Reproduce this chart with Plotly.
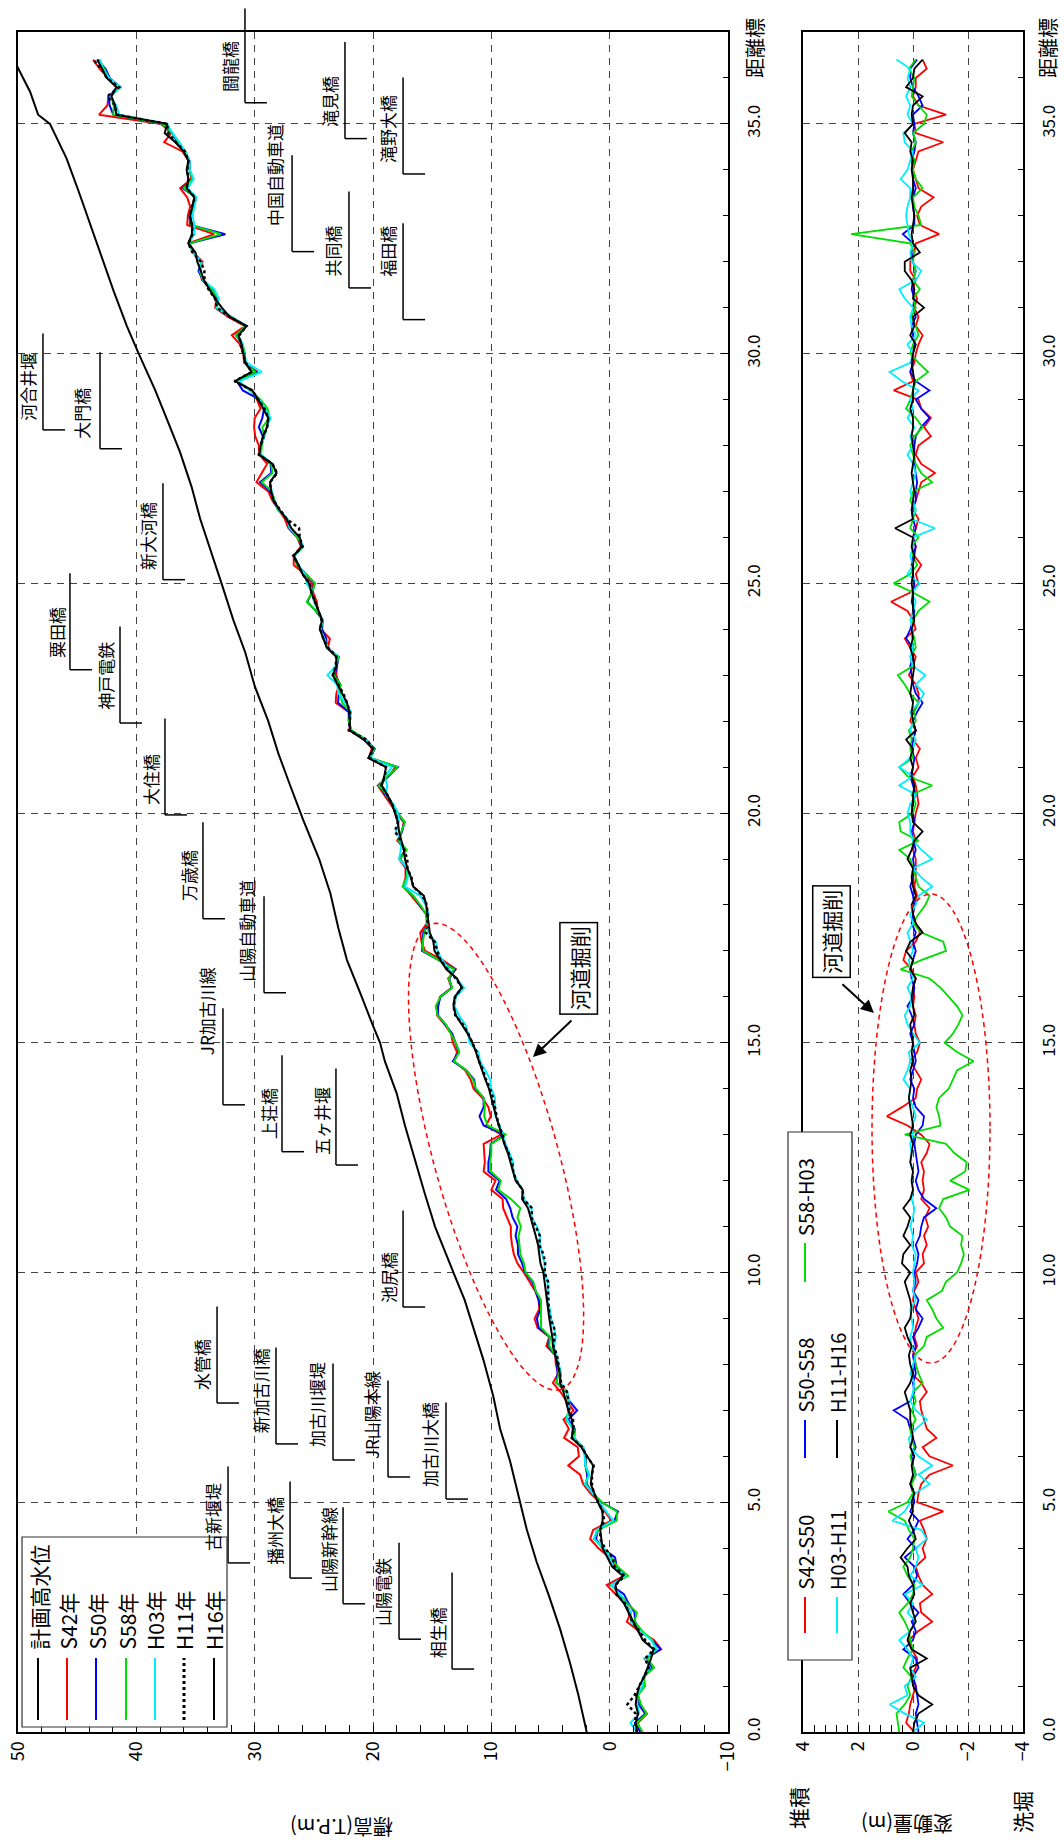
import math
import plotly.graph_objects as go

# ---------------------------------------------------------------
# Survey stations along the river (km), 200 m pitch
# ---------------------------------------------------------------
km = [round(0.2 * i, 1) for i in range(183)]

# Mean river-bed elevation, H16 survey (T.P. m)
h16 = [
    -2.3, -2.2, -2.4, -2.2, -2.3,
    -2.5, -2.9, -3.2, -3.5, -3.7,
    -2.8, -2.4, -2.0, -1.6, -1.2,
    -0.6, -0.5, -1.1, -0.2, 0.2,
    0.6, 0.7, 0.8, 0.6, 0.6,
    1.0, 1.3, 1.6, 1.5, 1.4,
    1.9, 2.4, 3.2, 3.1, 3.2,
    3.5, 3.7, 3.9, 4.2, 4.2,
    4.4, 4.6, 4.8, 4.85, 5.0,
    5.1, 5.2, 5.3, 5.4, 5.5,
    5.6, 5.85, 5.95, 6.05, 6.25,
    6.45, 6.7, 6.9, 7.4, 7.35,
    7.95, 8.15, 8.35, 8.6, 8.9,
    9.15, 9.35, 9.6, 9.8, 10.0,
    10.2, 10.5, 10.8, 11.05, 11.3,
    11.6, 12.0, 12.5, 13.0, 13.2,
    13.1, 12.5, 12.9, 13.8, 14.3,
    14.8, 14.9, 15.2, 15.3, 15.4,
    15.5, 15.7, 16.6, 16.8, 17.1,
    17.3, 17.4, 17.6, 17.8, 17.9,
    18.15, 18.4, 18.8, 19.25, 19.05,
    18.9, 20.4, 20.0, 20.8, 21.95,
    21.95, 22.0, 22.2, 22.6, 23.0,
    23.4, 23.1, 23.1, 23.9, 24.2,
    24.5, 24.3, 24.6, 24.9, 25.2,
    25.4, 25.95, 26.3, 26.7, 26.0,
    26.2, 26.9, 27.3, 27.9, 28.4,
    28.6, 28.7, 28.15, 28.5, 29.6,
    29.5, 29.3, 28.95, 28.85, 29.26,
    29.7, 30.2, 31.66, 30.25, 30.8,
    30.95, 31.1, 31.38, 30.67, 32.1,
    32.78, 33.35, 33.85, 34.3, 34.55,
    34.85, 35.0, 35.6, 35.3, 35.3,
    35.45, 35.3, 35.1, 35.75, 35.6,
    35.75, 35.6, 36.0, 36.7, 37.6,
    37.4, 41.7, 41.8, 42.1, 41.7,
    42.5, 42.9, 43.3,
]

# Bed-level change between successive surveys (m, + = deposition)
d_s42_s50 = [
    -0.05, 0.25, 0.15, 0.1, 0.0,
    -0.1, 0.05, -0.1, -0.15, 0.05,
    0.15, -0.2, -0.7, -0.3, -0.25,
    -0.7, -0.35, -0.2, -0.1, -0.45,
    -0.35, -0.5, -0.4, -0.25, -1.1,
    -0.15, -0.2, -0.3, -0.6, -1.45,
    -0.6, -0.35, -0.85, -0.5, -0.4,
    -0.3, -0.25, -0.5, -0.3, 0.05,
    -0.1, 0.0, -0.15, -0.05, -0.1,
    -0.2, -0.1, 0.0, -0.05, -0.2,
    -0.1, -0.4, -0.35, -0.5, -0.4,
    -0.55, -0.45, -0.6, -0.3, -0.4,
    -0.35, -0.4, -0.3, -0.5, -0.6,
    -0.3, 0.2, 0.95, 0.4, -0.1,
    -0.15, -0.3, -0.1, 0.1, -0.15,
    -0.25, -0.1, -0.05, -0.1, 0.0,
    -0.05, 0.0, -0.1, 0.05, 0.35,
    0.25, -0.1, -0.25, -0.1, 0.0,
    -0.05, -0.15, -0.05, -0.1, -0.1,
    -0.1, 0.0, -0.1, 0.0, -0.05,
    -0.1, -0.2, -0.15, -0.1, 0.0,
    -0.2, -0.1, -0.25, 0.0, -0.1,
    0.1, 0.0, -0.2, -0.2, -0.1,
    0.15, 0.0, -0.1, 0.1, 0.3,
    -0.1, 0.0, 0.2, 0.8, 0.1,
    -0.2, -0.1, -0.3, -0.05, -0.1,
    0.0, -0.1, -0.2, 0.0, -0.1,
    -0.2, -0.3, -0.8, -0.3, -0.1,
    -0.2, -0.65, -0.4, -0.65, -0.3,
    -0.2, 0.7, 0.0, 0.1, -0.05,
    -0.1, -0.2, -0.35, -0.1, -0.2,
    -0.05, -0.15, 0.0, -0.1, 0.1,
    0.1, -0.05, -0.1, -0.95, -0.25,
    -0.15, -0.3, -0.75, -0.2, -0.1,
    0.0, -0.1, -0.2, -1.1, -0.1,
    -0.05, -1.2, -0.2, 0.0, -0.1,
    -0.1, -0.5, -0.35,
]

d_s50_s58 = [
    -0.2, -0.15, -0.1, -0.2, -0.15,
    -0.1, 0.0, -0.2, -0.1, 0.35,
    0.0, -0.1, 0.05, -0.2, 0.1,
    0.35, 0.0, -0.15, -0.05, 0.3,
    -0.1, 0.2, -0.05, -0.2, 0.1,
    -0.05, 0.0, 0.1, -0.1, 0.0,
    0.05, -0.1, 0.0, 0.1, 0.2,
    0.7, 0.1, -0.05, 0.0, -0.1,
    -0.05, 0.0, -0.1, 0.0, -0.2,
    -0.35, -0.1, -0.2, 0.0, -0.1,
    -0.05, -0.15, -0.2, -0.1, -0.25,
    -0.3, -0.4, -0.85, -0.4, -0.2,
    -0.1, -0.2, -0.15, -0.1, -0.05,
    -0.1, -0.35, -0.4, -0.1, 0.0,
    -0.05, 0.1, 0.0, -0.1, -0.05,
    0.0, 0.1, -0.05, 0.05, 0.2,
    0.0, -0.05, 0.05, 0.1, 0.0,
    -0.1, 0.0, -0.1, 0.05, 0.0,
    -0.05, 0.0, 0.1, 0.0, -0.05,
    0.0, -0.1, 0.0, 0.05, -0.05,
    0.0, 0.05, -0.1, 0.0, 0.1,
    0.0, -0.05, 0.05, 0.0, -0.1,
    0.0, -0.15, -0.35, -0.1, 0.0,
    0.05, 0.1, 0.0, 0.0, 0.25,
    0.1, 0.0, -0.05, 0.05, 0.0,
    -0.05, 0.0, 0.05, 0.0, -0.1,
    0.0, -0.1, 0.0, 0.05, -0.1,
    -0.1, -0.15, -0.1, -0.05, -0.05,
    -0.05, -0.1, -0.3, -0.6, -0.3,
    -0.1, -0.6, -0.1, 0.1, 0.0,
    0.0, -0.05, 0.0, 0.05, -0.1,
    0.0, -0.05, 0.05, 0.0, -0.1,
    0.0, 0.05, 0.0, 0.37, -0.05,
    -0.05, 0.0, 0.0, -0.1, 0.0,
    0.0, 0.05, -0.05, -0.1, 0.0,
    -0.05, 0.0, -0.35, -0.2, 0.0,
    0.1, 0.1, -0.15,
]

d_s58_h03 = [
    0.5, 0.55, 0.6, 0.3, 0.1,
    0.2, 0.05, 0.35, 0.2, 0.0,
    0.1, 0.15, 0.3, 0.5, 0.2,
    0.0, -0.05, 0.2, 0.35, 0.1,
    0.0, -0.05, 0.15, 0.3, 0.9,
    0.2, 0.0, 0.05, -0.1, 0.0,
    0.1, -0.05, 0.05, 0.1, -0.1,
    0.05, -0.1, 0.0, -0.35, -0.2,
    -0.1, -0.05, -0.4, -0.5, -1.1,
    -0.85, -0.7, -0.5, -1.05, -1.2,
    -1.6, -1.75, -1.85, -1.75, -1.8,
    -1.35, -1.2, -0.95, -1.1, -2.05,
    -1.35, -1.9, -1.95, -1.5, -1.2,
    0.3, -1.0, -0.95, -0.85, -0.95,
    -1.3, -1.45, -1.6, -2.2, -1.6,
    -1.15, -1.45, -1.65, -1.8, -1.6,
    -1.3, -1.0, -0.6, 0.45, -0.3,
    -1.2, -1.1, -0.3, 0.0, -0.2,
    -0.45, -0.6, -0.2, -0.1, 0.0,
    0.1, 0.5, -0.2, 0.45, 0.5,
    0.0, -0.1, 0.05, -0.7, 0.2,
    0.5, 0.0, 0.1, 0.05, 0.15,
    -0.1, -0.05, -0.2, 0.1, 0.3,
    0.55, 0.0, 0.1, -0.1, -0.05,
    0.05, 0.0, -0.2, -0.6, 0.0,
    0.7, 0.1, -0.15, 0.0, 0.05,
    -0.2, 0.1, 0.0, -0.1, 0.1,
    0.0, -0.7, -0.3, -0.1, 0.0,
    0.1, -0.05, -0.35, -0.1, 0.25,
    0.1, 0.0, -0.1, -0.55, -0.2,
    0.1, 0.0, -0.2, -0.1, 0.05,
    -0.1, 0.0, -0.25, 0.0, -0.1,
    0.0, -0.05, 0.1, 2.25, -0.3,
    -0.2, -0.05, 0.0, -0.35, -0.1,
    0.0, -0.05, 0.05, -0.1, 0.0,
    -0.4, -0.5, -0.2, 0.05, 0.0,
    -0.05, 0.15, -0.1,
]

d_h03_h11 = [
    0.0, -0.4, 0.3, 0.85, 0.2,
    0.3, -0.1, 0.1, 0.0, 0.2,
    0.5, 0.1, -0.1, 0.2, 0.0,
    0.3, -0.35, 0.1, -0.1, -0.2,
    -0.1, -0.5, -0.3, 0.75, 0.3,
    0.1, -0.1, -0.6, -0.2, -0.7,
    -0.2, 0.1, 0.15, -0.1, -0.5,
    -0.1, 0.1, 0.0, -0.05, 0.1,
    0.0, -0.1, 0.05, 0.1, 0.0,
    0.05, 0.1, -0.1, 0.0, -0.05,
    0.0, -0.05, -0.1, 0.05, 0.0,
    0.1, 0.0, -0.05, 0.05, 0.0,
    0.05, 0.0, 0.1, 0.05, 0.1,
    0.0, 0.05, -0.1, 0.0, 0.15,
    0.1, 0.35, 0.2, 0.1, 0.15,
    -0.25, 0.0, 0.2, 0.3, 0.1,
    0.05, 0.2, 0.0, 0.1, 0.15,
    0.0, 0.1, 0.2, 0.0, 0.1,
    -0.1, -0.2, -0.7, -0.3, 0.0,
    -0.7, -0.3, 0.0, 0.1, 0.1,
    0.2, 0.1, -0.1, 0.5, 0.0,
    0.5, 0.1, 0.0, -0.1, 0.1,
    0.0, 0.1, -0.2, -0.4, -0.1,
    -0.45, 0.0, 0.1, 0.0, 0.05,
    0.0, 0.1, 0.0, -0.1, 0.05,
    -0.25, 0.2, 0.0, 0.1, 0.0,
    0.0, -0.8, 0.05, -0.1, 0.0,
    0.1, 0.0, -0.1, 0.0, 0.2,
    0.0, 0.1, -0.05, 0.2, 0.0,
    0.1, -0.2, 0.4, 0.85, 0.1,
    0.0, 0.2, -0.1, 0.05, 0.1,
    0.0, 0.3, 0.5, -0.1, -0.3,
    0.05, 0.1, 0.0, 0.15, 0.2,
    0.25, 0.2, 0.1, 0.1, 0.45,
    0.2, 0.1, 0.0, 0.3, 0.35,
    0.0, 0.2, 0.1, 0.25, 0.1,
    0.2, 0.1, 0.6,
]

d_h11_h16 = [
    0.0, -0.05, -0.2, -0.7, -0.2,
    0.0, 0.05, 0.1, -0.5, 0.05,
    0.2, 0.1, -0.1, 0.0, 0.1,
    -0.05, 0.0, 0.15, 0.2, 0.45,
    0.2, -0.1, 0.0, 0.15, 0.0,
    0.05, -0.05, 0.1, 0.0, 0.05,
    -0.05, 0.1, 0.0, 0.05, 0.1,
    0.1, 0.2, 0.3, 0.1, 0.0,
    0.1, 0.15, 0.05, 0.2, 0.3,
    0.1, 0.05, 0.1, 0.2, 0.3,
    0.1, 0.4, 0.35, 0.1, 0.35,
    0.2, 0.1, 0.35, 0.1, 0.0,
    0.05, 0.0, 0.1, 0.05, 0.0,
    0.1, 0.0, 0.05, 0.1, 0.15,
    0.1, 0.05, 0.1, 0.0, 0.05,
    0.0, 0.05, 0.1, -0.05, 0.0,
    0.05, 0.0, -0.1, 0.1, 0.0,
    0.25, 0.1, -0.35, -0.1, 0.0,
    0.05, -0.1, 0.0, 0.05, 0.0,
    0.2, 0.05, -0.05, -0.35, 0.0,
    0.05, 0.0, 0.0, -0.05, 0.05,
    0.0, 0.1, 0.0, 0.25, -0.1,
    0.0, 0.05, 0.0, 0.1, 0.05,
    0.0, -0.05, 0.0, 0.1, 0.0,
    0.05, -0.05, 0.0, 0.0, 0.0,
    0.05, 0.0, 0.0, -0.05, 0.05,
    0.0, 0.65, 0.0, 0.05, 0.0,
    -0.05, 0.0, 0.05, 0.0, -0.05,
    0.0, 0.05, 0.0, 0.0, 0.1,
    0.0, 0.0, -0.05, 0.0, 0.05,
    0.0, -0.1, 0.1, -0.05, 0.0,
    -0.4, 0.0, -0.05, 0.05, 0.3,
    0.3, -0.25, 0.0, 0.05, 0.0,
    -0.05, 0.0, 0.05, 0.0, 0.0,
    0.05, 0.0, 0.1, 0.05, 0.3,
    0.0, 0.05, 0.0, -0.35, 0.25,
    0.0, -0.05, -0.35,
]

# Planned high-water level (計画高水位)
hwl_km = [0.0, 0.8, 1.5, 2.25, 3.0, 3.7, 4.4, 5.0, 5.9, 6.6, 7.3, 8.1, 8.8, 9.4,
          10.0, 11.0, 11.7, 12.45, 13.2, 13.9, 14.6, 15.0, 15.35, 16.1, 16.8,
          17.5, 18.25, 19.0, 19.85, 20.6, 21.3, 22.0, 22.75, 23.5, 24.2, 25.0,
          25.65, 26.4, 27.1, 27.85, 28.5, 29.2, 30.0, 30.6, 31.35, 32.1, 32.8,
          33.55, 34.25, 35.0, 35.2, 35.7, 36.2, 36.8]
hwl_z = [1.94, 2.64, 3.35, 4.2, 5.18, 6.17, 7.0, 7.57, 8.42, 9.26, 9.83, 10.67,
         11.52, 12.25, 13.2, 14.76, 15.6, 16.45, 17.3, 18.0, 19.0, 19.4, 19.97,
         21.1, 22.2, 22.93, 23.6, 24.55, 25.9, 27.0, 28.0, 28.85, 29.98, 30.8,
         31.8, 32.8, 33.64, 34.6, 35.33, 36.3, 37.3, 38.4, 39.8, 40.8, 41.9,
         42.9, 43.9, 44.9, 45.9, 47.3, 48.3, 48.98, 49.97, 51.0]

# Structures crossing the river: name, km of the structure, elevation of the
# bracket line, text elevation, text km
structures = [
    ("闘龍橋", 35.46, 30.82, 32.08, 36.24),
    ("滝見橋", 34.68, 22.37, 23.63, 35.48),
    ("滝野大橋", 33.91, 17.46, 18.73, 34.89),
    ("中国自動車道", 32.22, 26.84, 28.28, 33.89),
    ("共同橋", 31.43, 22.03, 23.38, 32.22),
    ("福田橋", 30.74, 17.46, 18.73, 32.22),
    ("河合井堰", 28.34, 47.89, 49.15, 29.28),
    ("大門橋", 27.93, 43.07, 44.59, 28.69),
    ("新大河橋", 25.08, 37.75, 39.10, 26.03),
    ("粟田橋", 23.12, 45.61, 46.79, 23.94),
    ("神戸電鉄", 21.96, 41.38, 42.56, 22.99),
    ("大住橋", 19.96, 37.58, 38.84, 20.72),
    ("万歳橋", 17.70, 34.37, 35.63, 18.63),
    ("山陽自動車道", 16.09, 29.21, 30.65, 17.44),
    ("JR加古川線", 13.65, 32.68, 34.11, 15.69),
    ("上荘橋", 12.63, 27.69, 28.87, 13.45),
    ("五ヶ井堰", 12.34, 23.13, 24.31, 13.30),
    ("池尻橋", 9.25, 17.46, 18.73, 9.88),
    ("水管橋", 7.16, 33.18, 34.45, 7.99),
    ("新加古川橋", 6.27, 28.20, 29.55, 7.44),
    ("加古川堰堤", 5.92, 23.38, 24.73, 7.12),
    ("JR山陽本線", 5.55, 18.73, 20.08, 6.90),
    ("加古川大橋", 5.07, 13.83, 15.18, 6.25),
    ("古新堰堤", 3.68, 32.25, 33.52, 4.68),
    ("播州大橋", 3.35, 27.01, 28.28, 4.38),
    ("山陽新幹線", 2.79, 22.53, 23.80, 3.96),
    ("山陽電鉄", 2.02, 17.80, 19.15, 3.05),
    ("相生橋", 1.37, 13.32, 14.59, 2.15),
]
BRACKET_LEN_KM = 2.1
BRACKET_FOOT_M = 1.86

# Earlier survey profiles follow from H16 and the survey-to-survey changes
h11 = [a - b for a, b in zip(h16, d_h11_h16)]
h03 = [a - b for a, b in zip(h11, d_h03_h11)]
s58 = [a - b for a, b in zip(h03, d_s58_h03)]
s50 = [a - b for a, b in zip(s58, d_s50_s58)]
s42 = [a - b for a, b in zip(s50, d_s42_s50)]

RED, BLUE, GREEN, CYAN, BLACK = "#ff0000", "#0000ff", "#00dd00", "#00eeff", "#000000"
FONT = "Noto Sans CJK JP"
W, H = 1064, 1843


def px(x):
    return x / W


def py(y):
    return 1 - y / H


fig = go.Figure()

# ---- left panel: longitudinal bed profile ----
fig.add_trace(go.Scatter(x=hwl_z, y=hwl_km, mode="lines",
                         line=dict(color=BLACK, width=2), xaxis="x", yaxis="y"))
profiles = [
    (s42, RED, "solid", 2),
    (s50, BLUE, "solid", 2),
    (s58, GREEN, "solid", 2),
    (h03, CYAN, "solid", 2),
    (h11, BLACK, "dot", 2.5),
    (h16, BLACK, "solid", 2),
]
for vals, col, dash, wid in profiles:
    fig.add_trace(go.Scatter(x=vals, y=km, mode="lines",
                             line=dict(color=col, width=wid, dash=dash),
                             xaxis="x", yaxis="y"))

# ---- right panel: bed-level change ----
changes = [
    (d_s42_s50, RED),
    (d_s50_s58, BLUE),
    (d_s58_h03, GREEN),
    (d_h03_h11, CYAN),
    (d_h11_h16, BLACK),
]
for vals, col in changes:
    fig.add_trace(go.Scatter(x=vals, y=km, mode="lines",
                             line=dict(color=col, width=1.8),
                             xaxis="x2", yaxis="y2"))

axis_common = dict(
    showline=True, linecolor="black", linewidth=2, mirror=True,
    ticks="inside", ticklen=7, tickcolor="black", tickwidth=1,
    showgrid=True, gridcolor="#444444", gridwidth=1, griddash="7px,6px",
    zeroline=False, automargin=False,
)
xtickfont = dict(family=FONT, size=18, color="black")
ytickfont = dict(family=FONT, size=17, color="black")
ydom = [py(1732), py(32)]

fig.update_layout(
    width=W, height=H, autosize=False,
    margin=dict(l=0, r=0, t=0, b=0, pad=0, autoexpand=False),
    paper_bgcolor="white", plot_bgcolor="white",
    showlegend=False,
    font=dict(family=FONT, color="black"),
    xaxis=dict(domain=[px(18), px(728)], range=[50, -10], dtick=10, tick0=0,
               tickangle=-90, anchor="y", tickfont=xtickfont,
               minor=dict(dtick=2, ticks="inside", ticklen=7, tickcolor="black", showgrid=False),
               **axis_common),
    yaxis=dict(domain=ydom, range=[0, 37], dtick=5, tick0=0, tickformat=".1f",
               side="right", tickangle=-90, anchor="x", ticklabelstandoff=10,
               tickfont=ytickfont,
               minor=dict(dtick=1, ticks="inside", ticklen=5, tickcolor="black", showgrid=False),
               **axis_common),
    xaxis2=dict(domain=[px(803), px(1023)], range=[4, -4], dtick=2, tick0=0,
                tickangle=-90, anchor="y2", tickfont=xtickfont,
                minor=dict(dtick=0.4, ticks="inside", ticklen=7, tickcolor="black", showgrid=False),
                **axis_common),
    yaxis2=dict(domain=ydom, range=[0, 37], dtick=5, tick0=0, tickformat=".1f",
                side="right", tickangle=-90, anchor="x2", ticklabelstandoff=10,
                tickfont=ytickfont,
                minor=dict(dtick=1, ticks="inside", ticklen=5, tickcolor="black", showgrid=False),
                **axis_common),
)

shapes = []
annotations = []

# structure brackets and names
for name, kb, zl, zt, kt in structures:
    shapes.append(dict(type="line", xref="x", yref="y", x0=zl, x1=zl,
                       y0=kb, y1=kb + BRACKET_LEN_KM, line=dict(color="black", width=1.5)))
    shapes.append(dict(type="line", xref="x", yref="y", x0=zl, x1=zl - BRACKET_FOOT_M,
                       y0=kb, y1=kb, line=dict(color="black", width=1.5)))
    annotations.append(dict(xref="x", yref="y", x=zt, y=kt, text=name, textangle=-90,
                            showarrow=False, font=dict(size=17, family=FONT),
                            xanchor="center", yanchor="middle"))
# the uppermost bracket runs past the frame
annotations.append(dict(xref="x", yref="y", x=structures[0][2], y=37, text="",
                        showarrow=True, ax=0, ay=-25, arrowhead=0, arrowwidth=1.5,
                        arrowcolor="black", standoff=0, startstandoff=0))

# dredged reach highlighted in both panels
ec = (9.6, 12.52)
ea = (-5.41, -5.07)
eb = (-5.05, 0.357)
pts = []
for i in range(97):
    t = 2 * math.pi * i / 96
    pts.append((ec[0] + ea[0] * math.cos(t) + eb[0] * math.sin(t),
                ec[1] + ea[1] * math.cos(t) + eb[1] * math.sin(t)))
path = "M " + " L ".join(f"{x:.3f},{y:.3f}" for x, y in pts) + " Z"
shapes.append(dict(type="path", xref="x", yref="y", path=path,
                   line=dict(color=RED, width=1.5, dash="5px,4px")))
shapes.append(dict(type="circle", xref="x2", yref="y2", x0=1.49, x1=-2.8, y0=8.03, y1=18.24,
                   line=dict(color=RED, width=1.5, dash="5px,4px")))

for xr, yr, bx, by, hx, hy, axp, ayp in [
    ("x", "y", 2.59, 16.61, 6.48, 14.69, 40, -38),
    ("x2", "y2", 2.98, 17.41, 1.42, 15.65, -33, -30),
]:
    annotations.append(dict(xref=xr, yref=yr, x=bx, y=by, text="河道掘削", textangle=-90,
                            showarrow=False, font=dict(size=21, family=FONT),
                            bgcolor="white", bordercolor="black", borderwidth=1.5, borderpad=3,
                            xanchor="center", yanchor="middle"))
    annotations.append(dict(xref=xr, yref=yr, x=hx, y=hy, text="", showarrow=True,
                            ax=axp, ay=ayp, arrowhead=2, arrowsize=1.3, arrowwidth=2,
                            arrowcolor="black", standoff=0, startstandoff=0))

# legend of the profile panel
shapes.append(dict(type="rect", xref="paper", yref="paper", x0=px(22), x1=px(227),
                   y0=py(1727), y1=py(1537), fillcolor="white",
                   line=dict(color="#333333", width=1.2), layer="above"))
legend_main = [
    ("計画高水位", BLACK, "solid", 38),
    ("S42年", RED, "solid", 67),
    ("S50年", BLUE, "solid", 96),
    ("S58年", GREEN, "solid", 126),
    ("H03年", CYAN, "solid", 155),
    ("H11年", BLACK, "dot", 184),
    ("H16年", BLACK, "solid", 214),
]
for label, col, dash, xp in legend_main:
    shapes.append(dict(type="line", xref="paper", yref="paper", x0=px(xp), x1=px(xp),
                       y0=py(1720), y1=py(1658), layer="above",
                       line=dict(color=col, width=3 if dash == "dot" else 2, dash=dash)))
    annotations.append(dict(xref="paper", yref="paper", x=px(xp), y=py(1652), text=label,
                            textangle=-90, showarrow=False, font=dict(size=21, family=FONT),
                            xanchor="center", yanchor="bottom"))

# legend of the change panel
shapes.append(dict(type="rect", xref="paper", yref="paper", x0=px(788), x1=px(852),
                   y0=py(1660), y1=py(1132), fillcolor="white",
                   line=dict(color="#333333", width=1.2), layer="above"))
legend_diff = [
    ("S42-S50", RED, 805, 1633, 1597),
    ("S50-S58", BLUE, 805, 1458, 1420),
    ("S58-H03", GREEN, 805, 1282, 1243),
    ("H03-H11", CYAN, 837, 1633, 1597),
    ("H11-H16", BLACK, 837, 1458, 1420),
]
for label, col, xp, yb, yt in legend_diff:
    shapes.append(dict(type="line", xref="paper", yref="paper", x0=px(xp), x1=px(xp),
                       y0=py(yb), y1=py(yt), layer="above", line=dict(color=col, width=2)))
    annotations.append(dict(xref="paper", yref="paper", x=px(xp), y=py(yt - 5), text=label,
                            textangle=-90, showarrow=False, font=dict(size=20, family=FONT),
                            xanchor="center", yanchor="bottom"))

# axis captions
for xp in (755, 1048):
    annotations.append(dict(xref="paper", yref="paper", x=px(xp), y=py(48), text="距離標",
                            textangle=-90, showarrow=False, font=dict(size=20, family=FONT),
                            xanchor="center", yanchor="middle"))
annotations.append(dict(xref="paper", yref="paper", x=px(342), y=py(1828), text="標高(T.P.m)",
                        textangle=180, showarrow=False, font=dict(size=20, family=FONT),
                        xanchor="center", yanchor="middle"))
annotations.append(dict(xref="paper", yref="paper", x=px(907), y=py(1825), text="変動量(m)",
                        textangle=180, showarrow=False, font=dict(size=20, family=FONT),
                        xanchor="center", yanchor="middle"))
annotations.append(dict(xref="paper", yref="paper", x=px(798), y=py(1808), text="堆積",
                        textangle=-90, showarrow=False, font=dict(size=21, family=FONT),
                        xanchor="center", yanchor="middle"))
annotations.append(dict(xref="paper", yref="paper", x=px(1022), y=py(1812), text="洗堀",
                        textangle=-90, showarrow=False, font=dict(size=21, family=FONT),
                        xanchor="center", yanchor="middle"))

fig.update_layout(shapes=shapes, annotations=annotations)
fig.write_html("out.html")
